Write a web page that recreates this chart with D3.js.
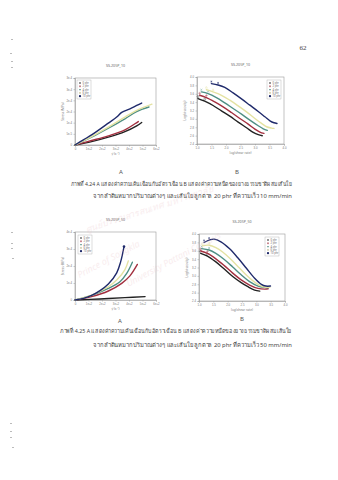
<!DOCTYPE html>
<html><head><meta charset="utf-8">
<script src="https://cdn.jsdelivr.net/npm/d3@7"></script>
<style>
html,body{margin:0;padding:0;background:#fff;}
svg{display:block;font-family:"Noto Sans","DejaVu Sans",sans-serif;}
</style></head>
<body>
<svg id="page" width="338" height="480"></svg>
<script>
// ---------- data ----------
const seriesNames = ["0 phr","2 phr","4 phr","6 phr","10 phr"];
const seriesColors = ["#222222","#a3303f","#4f8f84","#e4e2a2","#1f2a6b"];

// Fig 4.24 A : shear stress vs shear rate (10 mm/min)
const A10_phr0  = [[0,0],[123,0.15],[247,0.35],[370,0.60],[457,0.86],[494,1.01]];
const A10_phr2  = [[0,0],[123,0.20],[247,0.41],[370,0.68],[444,0.95],[469,1.05]];
const A10_phr4  = [[0,0],[123,0.35],[247,0.75],[370,1.17],[457,1.50],[548,1.70]];
const A10_phr6  = [[0,0],[123,0.38],[247,0.80],[370,1.25],[457,1.55],[570,1.83]];
const A10_phr10 = [[0,0],[62,0.23],[123,0.45],[185,0.71],[247,0.98],[309,1.25],[346,1.46],[407,1.62],[457,1.77],[494,1.88]];

// Fig 4.24 B : log viscosity vs log shear rate (10 mm/min)
const B10_phr0  = [[1.035,3.485],[1.265,3.422],[1.554,3.319],[1.842,3.192],[2.131,3.065],[2.419,2.923],[2.708,2.788],[2.938,2.677],[3.112,2.622],[3.250,2.598]];
const B10_phr2  = [[1.092,3.564],[1.323,3.509],[1.612,3.406],[1.900,3.287],[2.188,3.152],[2.477,3.010],[2.765,2.875],[2.996,2.756],[3.169,2.685],[3.308,2.653]];
const B10_phr4  = [[1.150,3.644],[1.381,3.604],[1.669,3.509],[1.958,3.382],[2.246,3.248],[2.535,3.113],[2.823,2.970],[3.112,2.836],[3.285,2.764],[3.423,2.725]];
const B10_phr6  = [[1.323,3.699],[1.554,3.644],[1.842,3.564],[2.131,3.446],[2.419,3.311],[2.708,3.168],[2.996,3.010],[3.227,2.891],[3.400,2.812],[3.573,2.780],[3.654,2.772]];
const B10_phr10 = [[1.496,3.842],[1.727,3.810],[1.958,3.754],[2.246,3.620],[2.535,3.477],[2.823,3.327],[3.112,3.176],[3.342,3.050],[3.515,2.954],[3.654,2.907],[3.758,2.891]];

// Fig 4.25 A : shear stress vs shear rate (50 mm/min)
const A50_phr0  = [[0,0],[185,0.06],[370,0.14],[519,0.20]];
const A50_phr2  = [[0,0],[123,0.20],[247,0.53],[346,0.98],[407,1.42],[462,2.09]];
const A50_phr4  = [[0,0],[123,0.27],[247,0.68],[333,1.07],[383,1.56],[425,2.22]];
const A50_phr6  = [[0,0],[123,0.29],[247,0.78],[309,1.17],[370,1.79],[395,2.30]];
const A50_phr10 = [[0,0],[62,0.10],[123,0.27],[185,0.55],[247,0.94],[309,1.60],[338,2.24],[363,3.14]];

// Fig 4.25 B : log viscosity vs log shear rate (50 mm/min)
const B50_phr0  = [[1.059,3.537],[1.294,3.472],[1.588,3.334],[1.882,3.163],[2.176,2.985],[2.471,2.839],[2.706,2.741],[2.941,2.660],[3.118,2.636]];
const B50_phr2  = [[1.059,3.594],[1.294,3.537],[1.588,3.407],[1.882,3.245],[2.176,3.066],[2.471,2.904],[2.765,2.782],[3.059,2.701],[3.294,2.684],[3.412,2.692]];
const B50_phr4  = [[1.094,3.651],[1.353,3.618],[1.588,3.537],[1.882,3.391],[2.176,3.212],[2.471,3.025],[2.765,2.863],[3.059,2.757],[3.294,2.725],[3.412,2.717]];
const B50_phr6  = [[1.118,3.716],[1.353,3.732],[1.588,3.675],[1.824,3.570],[2.118,3.391],[2.412,3.188],[2.706,2.985],[3.000,2.822],[3.235,2.741],[3.471,2.725]];
const B50_phr10 = [[1.176,3.797],[1.353,3.854],[1.529,3.878],[1.765,3.813],[2.059,3.651],[2.353,3.431],[2.647,3.188],[2.941,2.944],[3.176,2.798],[3.329,2.757],[3.494,2.757]];

// axis ticks / labels
const xTicksA = [0,100,200,300,400,500,600];
const xTickLabelsA = ["0","1e+2","2e+2","3e+2","4e+2","5e+2","6e+2"];
const yTicksA10 = [0,0.5,1,1.5,2,2.5,3];
const yTickLabelsA10 = ["0","5e-5","1e-4","2e-4","2e-4","3e-4","3e-4"];
const yTicksA50 = [0,1,2,3,4];
const yTickLabelsA50 = ["0","1e-4","2e-4","3e-4","4e-4"];
const xTicksB = [1,1.5,2,2.5,3,3.5,4];
const xTickLabelsB = ["1.0","1.5","2.0","2.5","3.0","3.5","4.0"];
const yTicksB = [2.4,2.6,2.8,3.0,3.2,3.4,3.6,3.8,4.0];
const yTickLabelsB = ["2.4","2.6","2.8","3.0","3.2","3.4","3.6","3.8","4.0"];

const chartTitles = ["SS-205P_10","SS-205P_10","SS-205P_50","SS-205P_50"];
const panelLetters = ["A","B","A","B"];
const captions424 = ["ภาพที่ 4.24 A แสดงค่าความเค้นเฉือนกับอัตราเฉือน  B แสดงค่าความหนืดของยางธรรมชาติผสมเส้นใย",
                     "จากลำต้นหมากปริมาณต่างๆ และเส้นใยลูกตาล 20 phr ที่ความเร็ว 10 mm/min"];
const captions425 = ["ภาพที่ 4.25    A    แสดงค่าความเค้นเฉือนกับอัตราเฉือน  B    แสดงค่าความหนืดของยางธรรมชาติผสมเส้นใย",
                     "จากลำต้นหมากปริมาณต่างๆ และเส้นใยลูกตาล 20 phr ที่ความเร็ว 50 mm/min"];
const pageNumber = "62";

// ---------- drawing ----------
const svg = d3.select("#page");

// faint scan marks on left margin
[[11,39],[10,53],[11,61],[11,67],[11,232],[11,243],[11,248],[12,258],[10,423],[10,431],[10,437],[12,447]].forEach(p=>{
  svg.append("rect").attr("x",p[0]).attr("y",p[1]).attr("width",2).attr("height",1).attr("fill","#bbb");
});

svg.append("text").attr("x",303).attr("y",50).attr("text-anchor","middle")
  .attr("font-size",7).attr("fill","#444").attr("font-family","Liberation Serif, serif").text(pageNumber);

function drawChart(cfg){
  const g = svg.append("g");
  const x = d3.scaleLinear().domain(cfg.xDomain).range([cfg.left, cfg.right]);
  const y = d3.scaleLinear().domain(cfg.yDomain).range([cfg.bottom, cfg.top]);
  g.append("rect").attr("x",cfg.left).attr("y",cfg.top)
    .attr("width",cfg.right-cfg.left).attr("height",cfg.bottom-cfg.top)
    .attr("fill","none").attr("stroke","#9a9a9a").attr("stroke-width",0.6);
  const xa = g.append("g").attr("transform",`translate(0,${cfg.bottom})`)
    .call(d3.axisBottom(x).tickValues(cfg.xTicks).tickSize(1.5).tickPadding(1.5)
      .tickFormat((d,i)=>cfg.xLabels[i]));
  const ya = g.append("g").attr("transform",`translate(${cfg.left},0)`)
    .call(d3.axisLeft(y).tickValues(cfg.yTicks).tickSize(1.5).tickPadding(1.5)
      .tickFormat((d,i)=>cfg.yLabels[i]));
  [xa,ya].forEach(a=>{
    a.select(".domain").attr("stroke","#9a9a9a").attr("stroke-width",0.6);
    a.selectAll(".tick line").attr("stroke","#999").attr("stroke-width",0.5);
    a.selectAll(".tick text").attr("font-size",2.8).attr("fill","#777");
  });
  g.append("text").attr("x",(cfg.left+cfg.right)/2).attr("y",cfg.top-11)
    .attr("text-anchor","middle").attr("font-size",3.6).attr("fill","#666").text(cfg.title);
  g.append("text").attr("x",(cfg.left+cfg.right)/2).attr("y",cfg.bottom+10)
    .attr("text-anchor","middle").attr("font-size",3.2).attr("fill","#777").text(cfg.xTitle);
  g.append("text").attr("transform",`translate(${cfg.left-11},${(cfg.top+cfg.bottom)/2}) rotate(-90)`)
    .attr("text-anchor","middle").attr("font-size",3.2).attr("fill","#777").text(cfg.yTitle);
  const line = d3.line().x(d=>x(d[0])).y(d=>y(d[1])).curve(d3.curveCatmullRom.alpha(0.5));
  cfg.series.forEach((s,i)=>{
    g.append("path").datum(s).attr("d",line).attr("fill","none")
      .attr("stroke",seriesColors[i]).attr("stroke-width",cfg.lw)
      .attr("stroke-linecap","round");
    if(cfg.startMarks){
      g.append("g").selectAll("path").data(s.slice(0,2)).join("path")
        .attr("d",d3.symbol(d3.symbolsStroke[i%6],3))
        .attr("transform",d=>`translate(${x(d[0])},${y(d[1])-2})`)
        .attr("fill","none").attr("stroke",seriesColors[i]).attr("stroke-width",0.4);
    }
    if(cfg.endMark && i===4){
      const d = s[s.length-1];
      g.append("circle").attr("cx",x(d[0])).attr("cy",y(d[1])).attr("r",1.3).attr("fill",seriesColors[i]);
    }
  });
  const lg = g.append("g").attr("transform",`translate(${cfg.legX},${cfg.legY})`);
  lg.append("rect").attr("width",14).attr("height",19).attr("fill","#fff")
    .attr("stroke","#aaa").attr("stroke-width",0.4);
  seriesNames.forEach((n,i)=>{
    const yy = 3+i*3.3;
    lg.append("path").attr("d",d3.symbol(d3.symbolsFill[i===4?0:(i+1)%7], i===4?4:2)())
      .attr("transform",`translate(3,${yy})`)
      .attr("fill",i===3?"#b8b27a":seriesColors[i]);
    lg.append("text").attr("x",5.5).attr("y",yy+1).attr("font-size",2.6).attr("fill","#666").text(n);
  });
}

const commonA = {xDomain:[0,600], xTicks:xTicksA, xLabels:xTickLabelsA, xTitle:"γ̇ (s⁻¹)", yTitle:"Stress (MPa)", lw:1.4, endMark:true};
const commonB = {xDomain:[1,4], xTicks:xTicksB, xLabels:xTickLabelsB, yDomain:[2.4,4.0], yTicks:yTicksB, yLabels:yTickLabelsB,
                 xTitle:"log(shear rate)", yTitle:"Log(viscosity)", lw:1.4, startMarks:true};

drawChart(Object.assign({}, commonA, {left:75,right:156,top:78,bottom:145, yDomain:[0,3], yTicks:yTicksA10, yLabels:yTickLabelsA10,
  series:[A10_phr0,A10_phr2,A10_phr4,A10_phr6,A10_phr10], title:chartTitles[0], legX:77, legY:80, endMark:false}));
drawChart(Object.assign({}, commonB, {left:197,right:284,top:77,bottom:144,
  series:[B10_phr0,B10_phr2,B10_phr4,B10_phr6,B10_phr10], title:chartTitles[1], legX:267, legY:80}));
drawChart(Object.assign({}, commonA, {left:75,right:156,top:232,bottom:300, yDomain:[0,4], yTicks:yTicksA50, yLabels:yTickLabelsA50,
  series:[A50_phr0,A50_phr2,A50_phr4,A50_phr6,A50_phr10], title:chartTitles[2], legX:78, legY:235}));
drawChart(Object.assign({}, commonB, {left:199,right:285,top:234,bottom:301,
  series:[B50_phr0,B50_phr2,B50_phr4,B50_phr6,B50_phr10], title:chartTitles[3], legX:265, legY:237}));

[[121,174],[237,174],[120,323],[242,321]].forEach((p,i)=>{
  svg.append("text").attr("x",p[0]).attr("y",p[1]).attr("text-anchor","middle")
    .attr("font-size",6).attr("fill","#555").text(panelLetters[i]);
});

function caption(lines, x1, y1, x2, y2){
  svg.append("text").attr("x",x1).attr("y",y1).attr("font-size",6).attr("fill","#444")
    .attr("textLength",292-x1).attr("lengthAdjust","spacingAndGlyphs").text(lines[0]);
  svg.append("text").attr("x",x2).attr("y",y2).attr("font-size",6).attr("fill","#444")
    .attr("textLength",292-x2).attr("lengthAdjust","spacingAndGlyphs").text(lines[1]);
}
caption(captions424, 71, 186, 93, 198);
caption(captions425, 60, 333, 93, 347);

const wm = [["ศูนย์บรรณสารสนเทศ มหาวิทยาลัย",150,212,-18],["Prince of Songkla",110,262,-28],["University Pattani Campus",175,262,-28]];
wm.forEach(w=>{
  svg.append("text").attr("transform",`translate(${w[1]},${w[2]}) rotate(${w[3]})`)
    .attr("text-anchor","middle").attr("font-size",9).attr("font-style","italic")
    .attr("fill","#e8b8c0").attr("opacity",0.25).text(w[0]);
});
</script>
</body></html>
